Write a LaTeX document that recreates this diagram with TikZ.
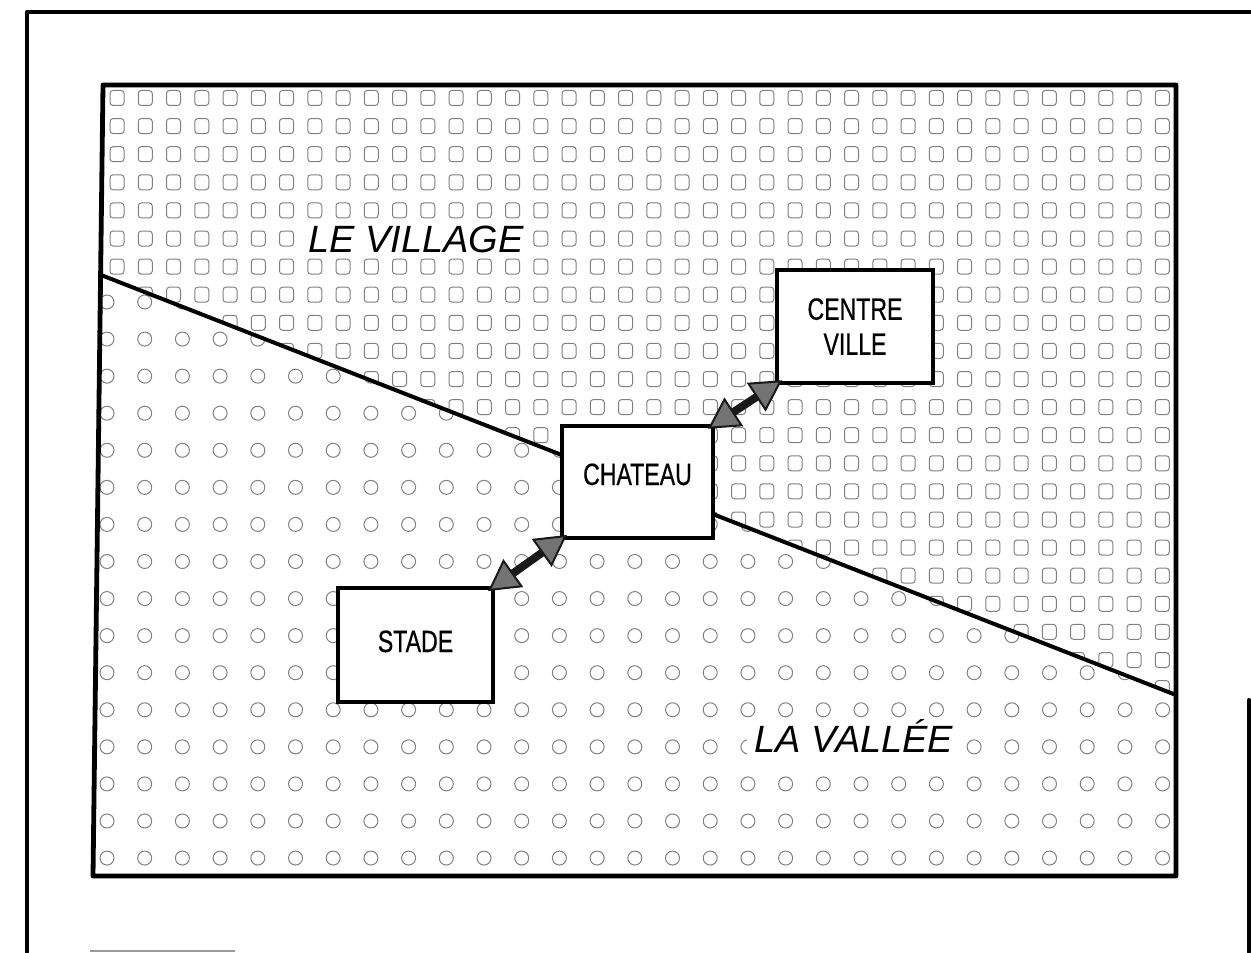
\documentclass[tikz,border=0pt]{standalone}
\usepackage{fontspec}
\setmainfont{Liberation Sans}
\newfontfamily\narrowfont[FakeStretch=0.75,FakeBold=0.6]{Liberation Sans}
\usetikzlibrary{arrows.meta}
\begin{document}
\begin{tikzpicture}[x=0.5pt,y=-0.5pt,
  outerframe/.style={line width=2pt, line join=round, line cap=round},
  innerframe/.style={line width=2.4pt, line join=round},
  divider/.style={line width=2pt},
  mapbox/.style={draw, line width=1.6pt, fill=white, inner sep=0pt,
    font=\narrowfont\fontsize{15.4pt}{17.5pt}\selectfont, align=center},
  region/.style={fill=white, inner xsep=4pt, inner ysep=1.5pt,
    font=\fontsize{19pt}{22pt}\selectfont\itshape, text height=13.6pt, text depth=0pt},
  link/.style={line width=4pt, draw=black!90, shorten <=-4pt, shorten >=-4pt,
    {Triangle[length=15.5pt,width=17pt,line width=1pt,fill=black!55]}-{Triangle[length=15.5pt,width=17pt,line width=1pt,fill=black!55]}},
  sq/.style={draw=black!50, line width=0.5pt, rounded corners=1.5pt},
  ci/.style={draw=black!50, line width=0.5pt}
]
\useasboundingbox (0,0) rectangle (1251,952);

% outer frame
\coordinate (oTR) at (1251,12);
\coordinate (oTL) at (27,12);
\coordinate (oBL) at (27,952);
\coordinate (oR1) at (1249,700);
\coordinate (oR2) at (1249,952);
\draw[outerframe] (oTR) -- (oTL) -- (oBL);
\draw[outerframe] (oR1) -- (oR2);
\coordinate (oB1) at (90,951);
\coordinate (oB2) at (235,951);
\draw[black!40, line width=0.6pt] (oB1) -- (oB2);

% inner frame corners and divider ends
\coordinate (iTL) at (103,85);
\coordinate (iTR) at (1176,85);
\coordinate (iBR) at (1176,876);
\coordinate (iBL) at (93,876);
\coordinate (lineL) at (101,275);
\coordinate (lineR) at (1176,695);

% village pattern (squares)
\begin{scope}
  \clip (iTL) -- (iTR) -- (lineR) -- (lineL) -- cycle;
  \foreach \i in {0,...,37}{
    \foreach \j in {0,...,21}{
      \draw[sq] ({117+28.25*\i-7},{98+28.1*\j-7.5}) rectangle ++(14,15);
    }
  }
\end{scope}

% valley pattern (circles)
\begin{scope}
  \clip (lineL) -- (lineR) -- (iBR) -- (iBL) -- cycle;
  \foreach \i in {0,...,28}{
    \foreach \j in {0,...,16}{
      \draw[ci] ({107+37.7*\i},{302+37.07*\j}) circle[radius=7];
    }
  }
\end{scope}

\draw[divider] (lineL) -- (lineR);
\draw[innerframe] (iTL) -- (iTR) -- (iBR) -- (iBL) -- cycle;

% region labels
\node[region] (village) at (416,238.5) {LE VILLAGE};
\node[region] (vallee) at (854,739) {LA VALLÉE};

% places
\node[mapbox, minimum width=75.5pt, minimum height=56pt, text height=11pt, text depth=8pt]
  (chateau) at (637.5,482) {CHATEAU};
\node[mapbox, minimum width=78pt, minimum height=56.5pt]
  (centre) at (855,326.5) {CENTRE\\VILLE};
\node[mapbox, minimum width=77.5pt, minimum height=57pt, text height=11pt, text depth=4pt]
  (stade) at (415.5,645) {STADE};

% links
\draw[link] (stade.north east) -- (chateau.south west);
\draw[link] (chateau.north east) -- (centre.south west);
\end{tikzpicture}
\end{document}
